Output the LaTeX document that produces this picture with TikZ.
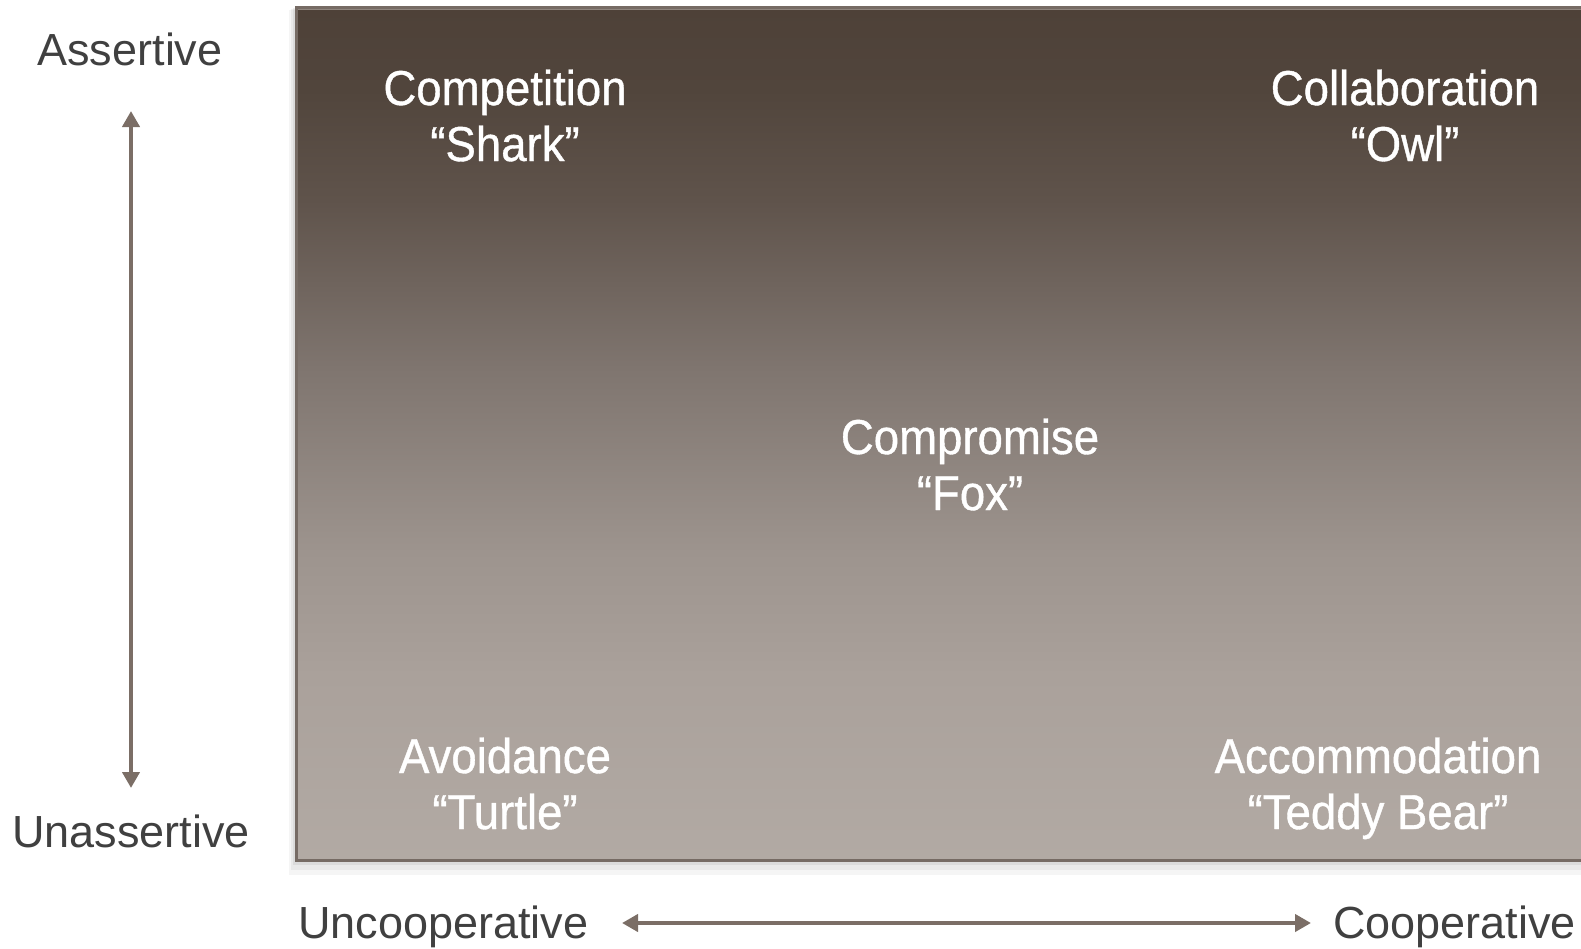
\documentclass[tikz,border=0pt]{standalone}
\usepackage{fontspec}
\setmainfont{Liberation Sans}
\newfontfamily\labfont[FakeStretch=0.93,FakeBold=0.8]{Liberation Sans}
\usetikzlibrary{arrows.meta}
\definecolor{axiscol}{HTML}{7B6E66}
\definecolor{axtext}{HTML}{404040}
\definecolor{boxborder}{HTML}{766B64}
\definecolor{boxtop}{HTML}{8F857E}
\definecolor{shA}{HTML}{B2AAA4}
\definecolor{shB}{HTML}{AAA19B}
\definecolor{shC}{HTML}{9D948E}
\definecolor{shD}{HTML}{7F756F}
\definecolor{shE}{HTML}{5F534B}
\definecolor{shF}{HTML}{51453C}
\definecolor{shG}{HTML}{4E4138}
\pgfdeclareverticalshading{boxshade}{100bp}{%
  color(0bp)=(shA);
  color(25bp)=(shA);
  color(35.85bp)=(shB);
  color(43.05bp)=(shC);
  color(53.85bp)=(shD);
  color(63.7bp)=(shE);
  color(70.15bp)=(shF);
  color(75bp)=(shG);
  color(100bp)=(shG)}
\tikzset{
  axislabel/.style={font=\fontsize{45}{54}\selectfont, text=axtext, inner sep=0pt},
  stylelabel/.style={font=\labfont\fontsize{49}{56}\selectfont, text=white, inner sep=0pt, align=center, anchor=base},
  axisarrow/.style={draw=axiscol, line width=4.5pt}
}
\begin{document}
\begin{tikzpicture}[x=1pt,y=-1pt]
\useasboundingbox (0,0) rectangle (1581,948);
% soft shadow of the box
\fill[black,opacity=0.04] (289,10) rectangle (1620,875);
\fill[black,opacity=0.05] (291,9) rectangle (1620,870);
\fill[black,opacity=0.06] (293,8) rectangle (1620,865);
% the box
\path[shading=boxshade] (296,7) rectangle (1620,860);
\draw[boxborder, line width=3pt] (296,7) rectangle (1620,860);
\draw[boxtop, line width=1.5pt] (298,9.5) -- (1620,9.5);
% style labels (anchored at the baseline of their second line)
\node[stylelabel] (competition) at (505,161) {Competition\\“Shark”};
\node[stylelabel] (collaboration) at (1405,161) {Collaboration\\“Owl”};
\node[stylelabel] (compromise) at (970,510) {Compromise\\“Fox”};
\node[stylelabel] (avoidance) at (505,829) {Avoidance\\“Turtle”};
\node[stylelabel] (accommodation) at (1378,829) {Accommodation\\“Teddy Bear”};
% axis labels
\node[axislabel, anchor=base] (assertive) at (130,65) {Assertive};
\node[axislabel, anchor=base] (unassertive) at (131,847) {Unassertive};
\node[axislabel, anchor=base west] (uncoop) at (298,938) {Uncooperative};
\node[axislabel, anchor=base west] (coop) at (1333,938) {Cooperative};
% axes
\coordinate (vtop) at (131,111);
\coordinate (vbot) at (131,788);
\coordinate (hleft) at (622,923);
\coordinate (hright) at (1311,923);
\draw[axisarrow, {Triangle[length=16pt,width=17pt]}-{Triangle[length=16pt,width=17pt]}] (vtop) -- (vbot);
\draw[axisarrow, {Triangle[length=16pt,width=17pt]}-{Triangle[length=16pt,width=17pt]}] (hleft) -- (hright);
\end{tikzpicture}
\end{document}
